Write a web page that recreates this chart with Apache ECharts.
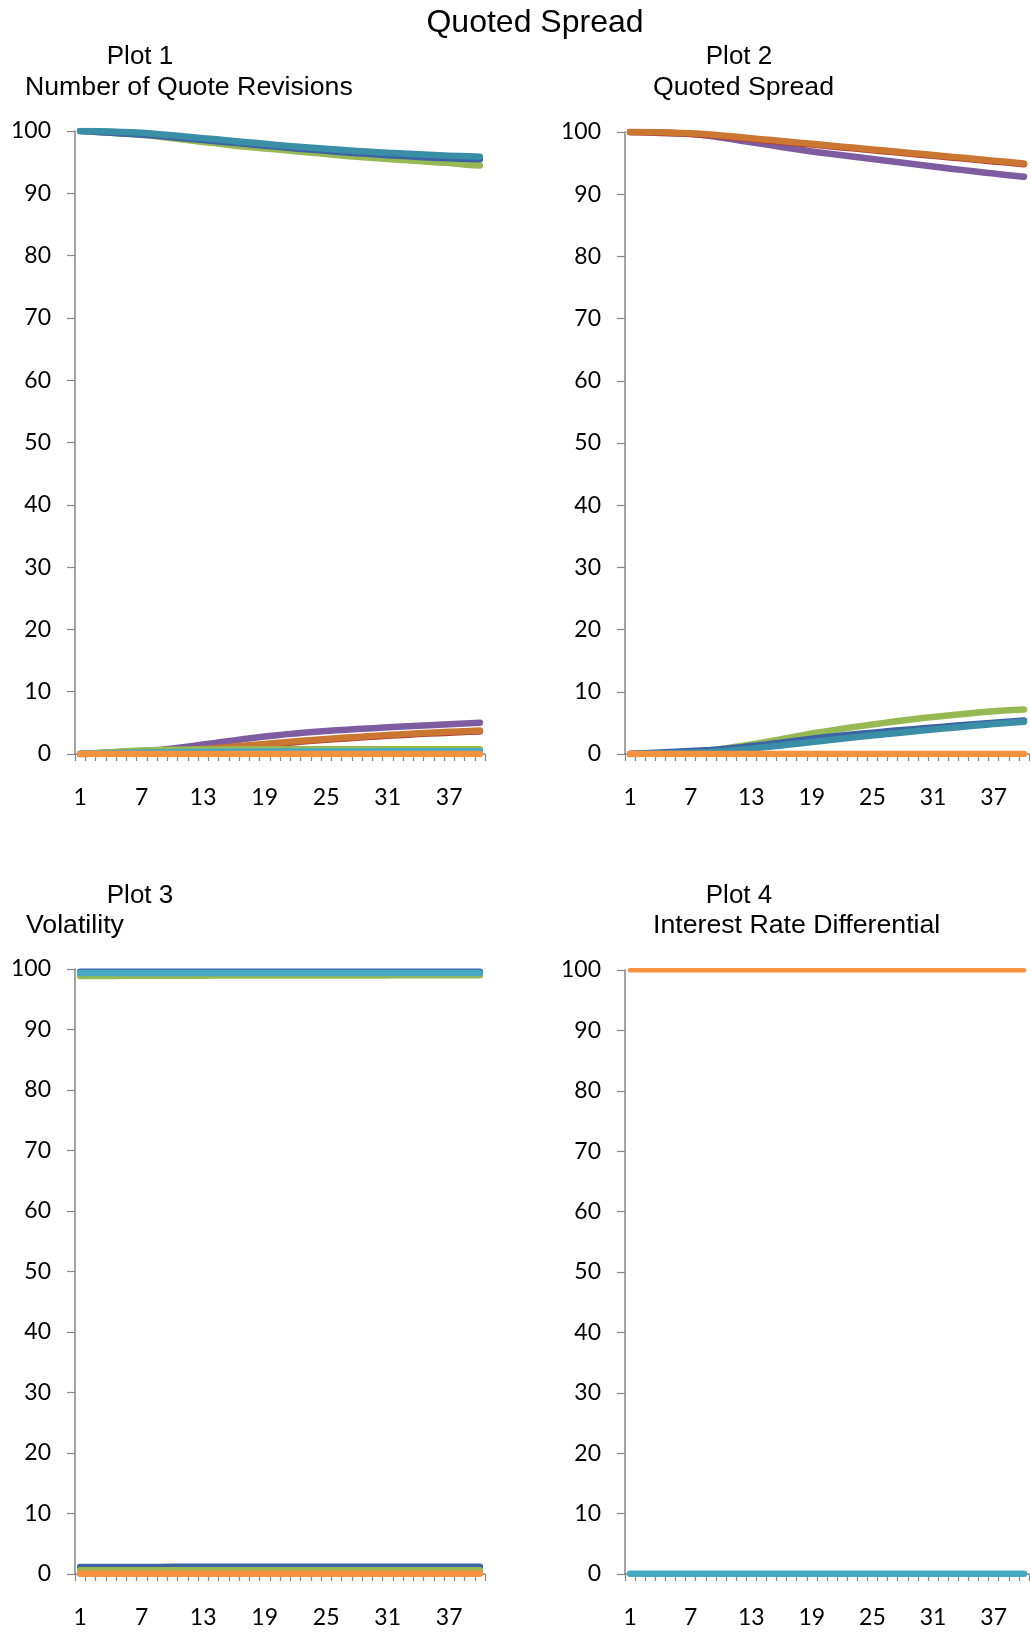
<!DOCTYPE html>
<html>
<head>
<meta charset="utf-8">
<script src="https://cdn.jsdelivr.net/npm/echarts@6/dist/echarts.min.js"></script>
<style>
html,body{margin:0;padding:0;background:#fff;}
#chart{width:1030px;height:1632px;}
</style>
</head>
<body>
<div id="chart"></div>
<script>
// ---- Data ----
const categories = Array.from({length: 40}, (_, i) => String(i + 1));
const yTicks = [0, 10, 20, 30, 40, 50, 60, 70, 80, 90, 100];

const mainTitle = "Quoted Spread";
const plotTitles = ["Plot 1", "Plot 2", "Plot 3", "Plot 4"];
const plotSubtitles = ["Number of Quote Revisions", "Quoted Spread", "Volatility", "Interest Rate Differential"];

// Plot 1 — Number of Quote Revisions
const p1Blue = [100,99.9,99.8,99.7,99.6,99.5,99.4,99.3,99.15,99.0,98.85,98.7,98.55,98.4,98.25,98.1,97.95,97.8,97.65,97.5,97.35,97.2,97.07,96.94,96.81,96.68,96.56,96.44,96.33,96.22,96.12,96.02,95.93,95.84,95.76,95.68,95.61,95.55,95.5,95.45];
const p1Teal = [100,99.98,99.95,99.9,99.85,99.8,99.7,99.6,99.45,99.3,99.15,99.0,98.85,98.7,98.55,98.4,98.25,98.1,97.95,97.8,97.65,97.5,97.38,97.26,97.14,97.02,96.9,96.8,96.7,96.6,96.5,96.42,96.34,96.26,96.18,96.1,96.04,95.98,95.93,95.88];
const p1Green = [100,99.9,99.8,99.7,99.6,99.5,99.4,99.25,99.05,98.85,98.65,98.45,98.25,98.05,97.85,97.65,97.5,97.35,97.2,97.05,96.9,96.75,96.6,96.45,96.3,96.15,96.0,95.88,95.76,95.64,95.52,95.4,95.29,95.18,95.07,94.96,94.85,94.7,94.55,94.45];
const p1Purple = [0,0.08,0.16,0.24,0.32,0.4,0.48,0.56,0.7,0.88,1.08,1.3,1.52,1.74,1.96,2.18,2.4,2.6,2.8,2.98,3.15,3.3,3.44,3.57,3.69,3.8,3.9,4.0,4.1,4.19,4.28,4.37,4.46,4.55,4.63,4.71,4.79,4.87,4.95,5.03];
const p1Red = [0,0.03,0.06,0.1,0.14,0.18,0.22,0.27,0.32,0.39,0.46,0.55,0.67,0.8,0.93,1.07,1.21,1.35,1.49,1.63,1.77,1.9,2.03,2.15,2.27,2.39,2.5,2.61,2.72,2.82,2.92,3.01,3.1,3.19,3.27,3.35,3.43,3.5,3.57,3.63];
const p1Brown = [0,0.05,0.1,0.15,0.2,0.25,0.3,0.36,0.42,0.5,0.58,0.68,0.8,0.93,1.06,1.2,1.34,1.48,1.62,1.76,1.9,2.03,2.16,2.28,2.4,2.52,2.63,2.74,2.85,2.95,3.05,3.14,3.23,3.32,3.4,3.48,3.56,3.63,3.7,3.76];
const p1GreenLow = [0,0.1,0.2,0.3,0.4,0.48,0.55,0.6,0.64,0.67,0.69,0.71,0.72,0.73,0.74,0.75,0.75,0.76,0.76,0.77,0.77,0.77,0.78,0.78,0.78,0.78,0.78,0.78,0.78,0.78,0.78,0.78,0.78,0.78,0.78,0.78,0.78,0.78,0.78,0.78];
const p1AquaLow = [0,0.04,0.08,0.12,0.16,0.2,0.23,0.26,0.28,0.3,0.32,0.33,0.34,0.35,0.36,0.37,0.38,0.38,0.39,0.39,0.4,0.4,0.4,0.41,0.41,0.41,0.42,0.42,0.42,0.42,0.43,0.43,0.43,0.43,0.43,0.44,0.44,0.44,0.44,0.44];
const p1Orange = [0,0,0,0,0,0,0,0,0,0,0,0,0,0,0,0,0,0,0,0,0,0,0,0,0,0,0,0,0,0,0,0,0,0,0,0,0,0,0,0];

// Plot 2 — Quoted Spread
const p2Red = [100,99.95,99.9,99.85,99.8,99.74,99.66,99.57,99.46,99.32,99.17,99.02,98.87,98.72,98.57,98.42,98.27,98.12,97.97,97.82,97.67,97.52,97.37,97.22,97.07,96.92,96.77,96.62,96.47,96.32,96.17,96.02,95.87,95.72,95.57,95.42,95.27,95.12,94.97,94.82];
const p2Brown = [100,100,99.98,99.95,99.9,99.85,99.78,99.7,99.6,99.45,99.3,99.15,99.0,98.85,98.7,98.55,98.4,98.25,98.1,97.95,97.8,97.65,97.5,97.35,97.2,97.05,96.9,96.75,96.6,96.45,96.3,96.15,96.0,95.85,95.7,95.55,95.4,95.25,95.1,94.95];
const p2Purple = [100,99.98,99.95,99.9,99.85,99.8,99.7,99.55,99.35,99.1,98.85,98.6,98.35,98.1,97.85,97.6,97.35,97.1,96.88,96.66,96.45,96.25,96.05,95.85,95.66,95.45,95.25,95.05,94.85,94.65,94.45,94.25,94.06,93.87,93.68,93.5,93.32,93.14,92.96,92.8];
const p2Green = [0,0.05,0.1,0.15,0.2,0.27,0.35,0.45,0.6,0.8,1.05,1.3,1.55,1.8,2.1,2.4,2.7,3.0,3.3,3.55,3.8,4.05,4.3,4.52,4.74,4.96,5.18,5.4,5.6,5.78,5.95,6.12,6.28,6.44,6.6,6.74,6.87,6.98,7.08,7.15];
const p2Blue = [0,0.08,0.16,0.24,0.32,0.4,0.48,0.56,0.65,0.78,0.93,1.1,1.28,1.47,1.66,1.86,2.06,2.26,2.46,2.64,2.8,2.96,3.12,3.28,3.43,3.58,3.72,3.86,4.0,4.14,4.27,4.4,4.53,4.66,4.79,4.92,5.04,5.16,5.28,5.4];
const p2Teal = [0,0.03,0.06,0.09,0.12,0.15,0.2,0.26,0.34,0.44,0.56,0.7,0.86,1.03,1.2,1.38,1.56,1.74,1.92,2.1,2.28,2.46,2.63,2.8,2.97,3.14,3.3,3.46,3.62,3.78,3.93,4.08,4.23,4.38,4.53,4.67,4.81,4.95,5.08,5.2];
const p2Orange = [0,0,0,0,0,0,0,0,0,0,0,0,0,0,0,0,0,0,0,0,0,0,0,0,0,0,0,0,0,0,0,0,0,0,0,0,0,0,0,0];

// Plot 3 — Volatility
const p3Blue = [99.55,99.55,99.55,99.55,99.55,99.55,99.55,99.55,99.55,99.55,99.55,99.55,99.55,99.55,99.55,99.55,99.55,99.55,99.55,99.55,99.55,99.55,99.55,99.55,99.55,99.55,99.55,99.55,99.55,99.55,99.55,99.55,99.55,99.55,99.55,99.55,99.55,99.55,99.55,99.55];
const p3Green = [98.85,98.85,98.86,98.86,98.87,98.87,98.88,98.88,98.89,98.89,98.9,98.9,98.9,98.91,98.91,98.91,98.92,98.92,98.92,98.92,98.93,98.93,98.93,98.93,98.93,98.94,98.94,98.94,98.94,98.94,98.94,98.95,98.95,98.95,98.95,98.95,98.95,98.95,98.95,98.95];
const p3Teal = [99.35,99.35,99.35,99.35,99.35,99.35,99.35,99.35,99.35,99.35,99.35,99.35,99.35,99.35,99.35,99.35,99.35,99.35,99.35,99.35,99.35,99.35,99.35,99.35,99.35,99.35,99.35,99.35,99.35,99.35,99.35,99.35,99.35,99.35,99.35,99.35,99.35,99.35,99.35,99.35];
const p3BlueLow = [1.15,1.15,1.15,1.16,1.16,1.16,1.17,1.17,1.17,1.18,1.18,1.18,1.18,1.19,1.19,1.19,1.19,1.2,1.2,1.2,1.2,1.2,1.2,1.2,1.2,1.21,1.21,1.21,1.21,1.21,1.21,1.21,1.21,1.21,1.21,1.21,1.21,1.21,1.21,1.21];
const p3GreenLow = [0.6,0.6,0.6,0.6,0.6,0.6,0.6,0.6,0.6,0.6,0.6,0.6,0.6,0.6,0.6,0.6,0.6,0.6,0.6,0.6,0.6,0.6,0.6,0.6,0.6,0.6,0.6,0.6,0.6,0.6,0.6,0.6,0.6,0.6,0.6,0.6,0.6,0.6,0.6,0.6];
const p3Orange = [0.05,0.05,0.05,0.05,0.05,0.05,0.05,0.05,0.05,0.05,0.05,0.05,0.05,0.05,0.05,0.05,0.05,0.05,0.05,0.05,0.05,0.05,0.05,0.05,0.05,0.05,0.05,0.05,0.05,0.05,0.05,0.05,0.05,0.05,0.05,0.05,0.05,0.05,0.05,0.05];

// Plot 4 — Interest Rate Differential
const p4Orange = [99.95,99.95,99.95,99.95,99.95,99.95,99.95,99.95,99.95,99.95,99.95,99.95,99.95,99.95,99.95,99.95,99.95,99.95,99.95,99.95,99.95,99.95,99.95,99.95,99.95,99.95,99.95,99.95,99.95,99.95,99.95,99.95,99.95,99.95,99.95,99.95,99.95,99.95,99.95,99.95];
const p4Aqua = [0.05,0.05,0.05,0.05,0.05,0.05,0.05,0.05,0.05,0.05,0.05,0.05,0.05,0.05,0.05,0.05,0.05,0.05,0.05,0.05,0.05,0.05,0.05,0.05,0.05,0.05,0.05,0.05,0.05,0.05,0.05,0.05,0.05,0.05,0.05,0.05,0.05,0.05,0.05,0.05];

// ---- Styling ----
const C = {
  blue: '#3C64A2', teal: '#3A8EA7', green: '#97B852', purple: '#7D5CA1',
  red: '#B23F3A', brown: '#CB7631', orange: '#F6913F', aqua: '#47A9C4'
};
const AXIS_COLOR = '#868686';
const TICK_FONT = 'Lato, "Liberation Sans", Arial, sans-serif';
const TITLE_FONT = '"Liberation Sans", Arial, sans-serif';

const grids = [
  {left: 75, top: 131, width: 410, height: 623},
  {left: 625, top: 132, width: 404, height: 622},
  {left: 75, top: 969, width: 410, height: 605},
  {left: 625, top: 970, width: 404, height: 604}
];

const xAxes = grids.map((g, i) => ({
  type: 'category', gridIndex: i, data: categories, boundaryGap: true,
  axisLine: {lineStyle: {color: AXIS_COLOR, width: 1.5}},
  axisTick: {show: true, interval: 0, length: 7, lineStyle: {color: AXIS_COLOR, width: 1.2}},
  axisLabel: {interval: 5, margin: 32, color: '#000', fontSize: 23, fontFamily: TICK_FONT},
  splitLine: {show: false}
}));
const yAxes = grids.map((g, i) => ({
  type: 'value', gridIndex: i, min: 0, max: 100, interval: 10,
  axisLine: {show: true, lineStyle: {color: AXIS_COLOR, width: 1.5}},
  axisTick: {show: true, length: 8, lineStyle: {color: AXIS_COLOR, width: 1.2}},
  axisLabel: {margin: 24, color: '#000', fontSize: 23, fontFamily: TICK_FONT,
    formatter: v => yTicks.includes(v) ? String(v) : ''},
  splitLine: {show: false}
}));

function line(idx, data, color, width) {
  return {
    type: 'line', xAxisIndex: idx, yAxisIndex: idx, data: data,
    symbol: 'none', smooth: false, silent: true,
    lineStyle: {color: color, width: width || 6.5, cap: 'round', join: 'round'}
  };
}

const series = [
  // Plot 1
  line(0, p1Green, C.green),
  line(0, p1Blue, C.blue),
  line(0, p1Teal, C.teal),
  line(0, p1Purple, C.purple),
  line(0, p1Red, C.red),
  line(0, p1Brown, C.brown),
  line(0, p1GreenLow, C.green),
  line(0, p1AquaLow, C.aqua),
  line(0, p1Orange, C.orange),
  // Plot 2
  line(1, p2Purple, C.purple),
  line(1, p2Red, C.red),
  line(1, p2Brown, C.brown),
  line(1, p2Green, C.green),
  line(1, p2Blue, C.blue),
  line(1, p2Teal, C.teal),
  line(1, p2Orange, C.orange),
  // Plot 3
  line(2, p3Green, C.green),
  line(2, p3Blue, C.blue),
  line(2, p3Teal, C.aqua),
  line(2, p3BlueLow, C.blue),
  line(2, p3GreenLow, C.green),
  line(2, p3Orange, C.orange),
  // Plot 4
  line(3, p4Orange, C.orange, 4.5),
  line(3, p4Aqua, C.aqua)
];

function txt(x, y, s, size, align) {
  return {type: 'text', x: x, y: y,
    style: {text: s, fill: '#000', font: size + 'px ' + TITLE_FONT,
      textAlign: align, textVerticalAlign: 'middle'}};
}
const graphic = [
  txt(535, 23, mainTitle, 32, 'center'),
  txt(140, 57, plotTitles[0], 26, 'center'),
  txt(25, 88, plotSubtitles[0], 26.7, 'left'),
  txt(739, 57, plotTitles[1], 26, 'center'),
  txt(653, 88, plotSubtitles[1], 26.7, 'left'),
  txt(140, 896, plotTitles[2], 26, 'center'),
  txt(26, 926, plotSubtitles[2], 26.7, 'left'),
  txt(739, 896, plotTitles[3], 26, 'center'),
  txt(653, 926, plotSubtitles[3], 26.7, 'left')
];

const chart = echarts.init(document.getElementById('chart'), null, {renderer: 'canvas'});
chart.setOption({
  animation: false,
  backgroundColor: '#fff',
  grid: grids,
  xAxis: xAxes,
  yAxis: yAxes,
  series: series,
  graphic: graphic
});
</script>
</body>
</html>
